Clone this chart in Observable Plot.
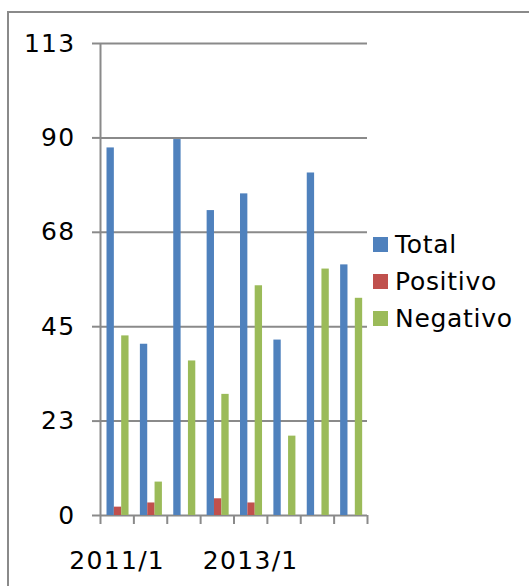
<!DOCTYPE html>
<html>
<head>
<meta charset="utf-8">
<script src="https://cdn.jsdelivr.net/npm/d3@7"></script>
<script src="https://cdn.jsdelivr.net/npm/@observablehq/plot@0.6"></script>
<style>
  html, body { margin: 0; padding: 0; background: #fff; overflow: hidden; }
  #wrap { position: relative; width: 529px; height: 586px; font-family: "DejaVu Sans", Verdana, sans-serif; }
  #border { position: absolute; left: 7px; top: 11px; width: 600px; height: 700px; border-left: 2px solid #8a8a8a; border-top: 2px solid #8a8a8a; box-sizing: border-box; }
  #chart { position: absolute; left: 0; top: 0; }
  #chart svg text { letter-spacing: 1.3px; }
  .leg { position: absolute; left: 373px; font-size: 25px; line-height: 1; color: #000; display: flex; align-items: center; white-space: nowrap; letter-spacing: 0.7px; }
  .leg span.sw { display: inline-block; width: 15px; height: 15px; margin-right: 7px; }
</style>
</head>
<body>
<div id="wrap">
  <div id="border"></div>
  <div id="chart"></div>
  <div id="legend"></div>
</div>
<script>
const categories = ["2011/1","2011/2","2012/1","2012/2","2013/1","2013/2","2014/1","2014/2"];
const seriesNames = ["Total","Positivo","Negativo"];
const total    = [88, 41, 90, 73, 77, 42, 82, 60];
const positivo = [2, 3, 0, 4, 3, 0, 0, 0];
const negativo = [43, 8, 37, 29, 55, 19, 59, 52];
const yTicks = [0, 22.6, 45.2, 67.8, 90.4, 113];
const yTickLabels = ["0","23","45","68","90","113"];
const labelEvery = 4;
const colors = ["#4F81BD", "#C0504D", "#9BBB59"];

const seriesValues = [total, positivo, negativo];
const rows = [];
categories.forEach((c, i) => {
  seriesNames.forEach((s, k) => {
    rows.push({cat: c, idx: i, series: s, k, value: seriesValues[k][i]});
  });
});

// bar layout within each category band (fractions of the band)
const groupStart = 0.195, barW = 0.22;
const gridColor = "#8a8a8a";

const plot = Plot.plot({
  width: 529,
  height: 586,
  marginLeft: 100,
  marginRight: 162,
  marginTop: 43,
  marginBottom: 71,
  style: {fontFamily: "DejaVu Sans, Verdana, sans-serif", fontSize: "25px", color: "#000", background: "transparent"},
  x: {type: "linear", domain: [0, categories.length], axis: null},
  y: {domain: [0, 113], axis: null, label: null},
  color: {domain: seriesNames, range: colors},
  marks: [
    Plot.gridY(yTicks, {stroke: gridColor, strokeOpacity: 1, strokeWidth: 2}),
    Plot.rectY(rows, {
      x1: d => d.idx + groupStart + d.k * barW,
      x2: d => d.idx + groupStart + (d.k + 1) * barW,
      y1: 0,
      y2: "value",
      fill: "series"
    }),
    Plot.ruleX([0], {stroke: gridColor, strokeWidth: 2}),
    Plot.axisY({
      ticks: yTicks,
      tickSize: 8,
      tickPadding: 17,
      tickFormat: d => yTickLabels[yTicks.indexOf(d)],
      stroke: gridColor,
      strokeWidth: 2,
      fill: "#000",
      fontSize: 25,
      label: null
    }),
    Plot.axisX({
      ticks: d3.range(0, categories.length + 1),
      tickSize: 9,
      tickFormat: () => "",
      stroke: gridColor,
      strokeWidth: 2,
      label: null
    }),
    Plot.text(categories.filter((c, i) => i % labelEvery === 0), {
      x: c => categories.indexOf(c) + 0.5,
      frameAnchor: "bottom",
      dy: 45,
      text: d => d,
      fill: "#000",
      fontSize: 25,
      lineAnchor: "middle"
    })
  ]
});
document.getElementById("chart").appendChild(plot);

const legend = document.getElementById("legend");
const legTops = [233, 270, 307];
seriesNames.forEach((s, k) => {
  const div = document.createElement("div");
  div.className = "leg";
  div.style.top = legTops[k] + "px";
  div.style.height = "22px";
  div.innerHTML = `<span class="sw" style="background:${colors[k]}"></span><span>${s}</span>`;
  legend.appendChild(div);
});
</script>
</body>
</html>
